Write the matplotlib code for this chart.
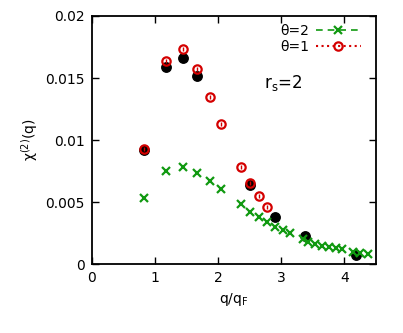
import matplotlib
matplotlib.use("Agg")
import matplotlib.pyplot as plt
from matplotlib.ticker import FixedLocator

# Data
q_black = [0.825, 1.17, 1.45, 1.66, 2.51, 2.90, 3.37, 4.19]
chi_black = [0.00919, 0.01591, 0.01659, 0.01516, 0.00637, 0.00382, 0.00226, 0.00073]

q_t1 = [0.825, 1.17, 1.45, 1.66, 1.873, 2.05, 2.36, 2.51, 2.65, 2.78]
chi_t1 = [0.00925, 0.01637, 0.01734, 0.01575, 0.01349, 0.01132, 0.00785, 0.00656, 0.00551, 0.00462]

q_t2 = [0.825, 1.17, 1.45, 1.66, 1.873, 2.05, 2.36, 2.51, 2.65, 2.78, 2.90, 3.02,
        3.14, 3.34, 3.43, 3.53, 3.64, 3.75, 3.86, 3.96, 4.13, 4.25, 4.37]
chi_t2 = [0.0053, 0.00753, 0.00785, 0.00731, 0.00669, 0.00602, 0.00481, 0.00422,
          0.00376, 0.00336, 0.00301, 0.00274, 0.00247, 0.00199, 0.00175, 0.00159,
          0.00145, 0.00135, 0.00126, 0.00118, 0.00099, 0.00086, 0.00078]

xticks = [0, 1, 2, 3, 4]
yticks = [0, 0.005, 0.01, 0.015, 0.02]
ytick_labels = ["0", "0.005", "0.01", "0.015", "0.02"]

GREEN = "#119911"
RED = "#d40000"

fig = plt.figure(figsize=(4.03, 3.33), dpi=100)
ax = fig.add_axes([0.228, 0.207, 0.705, 0.745])

ax.plot(q_black, chi_black, linestyle="none", marker="o", ms=6.8,
        color="black", zorder=2)
ax.plot(q_t1, chi_t1, linestyle="none", marker="o", ms=6, mfc="none",
        mec=RED, mew=1.6, zorder=3)
ax.plot(q_t1, chi_t1, linestyle="none", marker="|", ms=3, color=RED,
        mew=1.0, zorder=3)
ax.plot(q_t2, chi_t2, linestyle="none", marker="x", ms=5.5, color=GREEN,
        mew=1.6, zorder=4)

# legend handles
h2, = ax.plot([], [], linestyle=(0, (4, 3)), marker="x", ms=5.5, color=GREEN, mew=1.6, lw=1.2)
h1, = ax.plot([], [], linestyle=":", marker="o", ms=6, mfc="none", color=RED, mec=RED, mew=1.6, lw=1.5)
leg = ax.legend([h2, h1], ["θ=2", "θ=1"], loc="upper right", frameon=False,
                markerfirst=False, fontsize=10, handlelength=3.2,
                borderaxespad=0.2, labelspacing=0.1, handletextpad=0.5,
                bbox_to_anchor=(0.975, 1.0))

ax.text(0.675, 0.73, r"r$_\mathregular{s}$=2", transform=ax.transAxes,
        fontsize=12, ha="center", va="center")

ax.set_xlim(0, 4.5)
ax.set_ylim(0, 0.02)
ax.xaxis.set_major_locator(FixedLocator(xticks))
ax.yaxis.set_major_locator(FixedLocator(yticks))
ax.set_xticklabels([str(t) for t in xticks])
ax.set_yticklabels(ytick_labels)
ax.tick_params(direction="in", top=True, right=True, length=5, width=1,
               labelsize=10, pad=5)
for s in ax.spines.values():
    s.set_linewidth(1.3)

ax.set_xlabel(r"q/q$_\mathregular{F}$", fontsize=10)
ax.set_ylabel(r"χ$^\mathregular{(2)}$(q)", fontsize=10)

fig.savefig("out.png", dpi=100)
